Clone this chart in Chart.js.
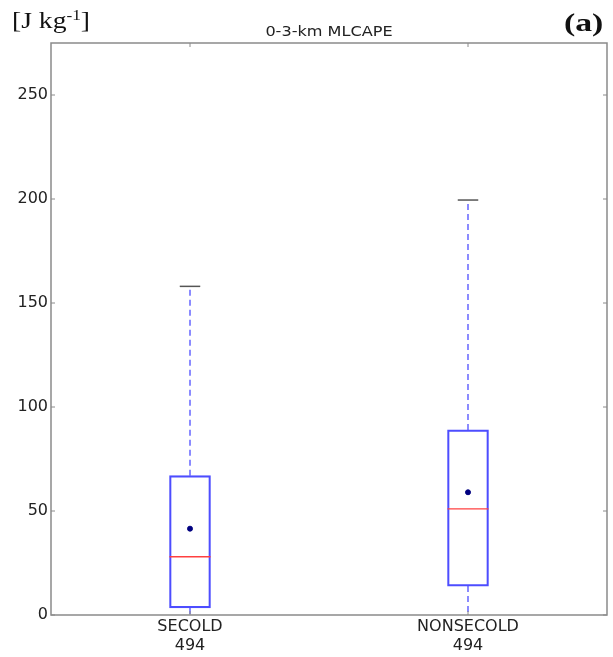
<!DOCTYPE html>
<html>
<head>
<meta charset="utf-8">
<script src="https://cdn.jsdelivr.net/npm/chart.js@4"></script>
<style>
  body { margin: 0; background: #fff; }
  #wrap { position: relative; width: 613px; height: 657px; }
  #unit { position: absolute; left: 12px; top: 7px; font: 24px "Liberation Serif", serif; color: #111;
          transform: scaleX(1.15); transform-origin: left top; white-space: nowrap; }
  #unit sup { font-size: 15px; vertical-align: 8px; }
  #panel { position: absolute; right: 10px; top: 8px; font: bold 26px "Liberation Serif", serif; color: #111;
           transform: scaleX(1.3); transform-origin: right top; }
  #title { position: absolute; left: 329px; top: 23px; font: 14px "DejaVu Sans", sans-serif; color: #222;
           transform: translateX(-50%) scaleX(1.15); white-space: nowrap; }
</style>
</head>
<body>
<div id="wrap">
  <canvas id="boxChart" width="613" height="657"></canvas>
  <div id="unit">[J kg<sup>-1</sup>]</div>
  <div id="title">0-3-km MLCAPE</div>
  <div id="panel">(a)</div>
</div>
<script>
'use strict';

// Data
const categories = ['SECOLD', 'NONSECOLD'];
const sampleCounts = [494, 494];
const whiskerLow = [0, 0];
const quartile1 = [3.4, 13.9];
const medians = [28, 51];
const means = [41.5, 59];
const quartile3 = [67, 89];
const whiskerHigh = [158, 199.5];
const yTicks = [0, 50, 100, 150, 200, 250];
const yMax = 275;

const axisGray = '#8a8a8a';
const boxBlue = '#4d4dff';

// whiskers, caps and median lines
const boxExtras = {
  id: 'boxExtras',
  afterDatasetsDraw(chart) {
    const ctx = chart.ctx;
    const x = chart.scales.x;
    const y = chart.scales.y;
    const bars = chart.getDatasetMeta(0).data;
    ctx.save();
    for (let i = 0; i < categories.length; i++) {
      const cx = x.getPixelForValue(i);
      const half = bars[i].width / 2;
      // dashed whiskers
      ctx.strokeStyle = boxBlue;
      ctx.lineWidth = 1.3;
      ctx.setLineDash([6, 4]);
      ctx.beginPath();
      ctx.moveTo(cx, y.getPixelForValue(quartile3[i]));
      ctx.lineTo(cx, y.getPixelForValue(whiskerHigh[i]));
      ctx.moveTo(cx, y.getPixelForValue(quartile1[i]));
      ctx.lineTo(cx, y.getPixelForValue(whiskerLow[i]));
      ctx.stroke();
      ctx.setLineDash([]);
      // caps
      ctx.strokeStyle = '#555';
      ctx.lineWidth = 1.5;
      ctx.beginPath();
      ctx.moveTo(cx - half / 2, y.getPixelForValue(whiskerHigh[i]));
      ctx.lineTo(cx + half / 2, y.getPixelForValue(whiskerHigh[i]));
      ctx.stroke();
      // median
      ctx.strokeStyle = '#ff4040';
      ctx.lineWidth = 1.3;
      ctx.beginPath();
      ctx.moveTo(cx - half, y.getPixelForValue(medians[i]));
      ctx.lineTo(cx + half, y.getPixelForValue(medians[i]));
      ctx.stroke();
    }
    ctx.restore();
  },
  afterDraw(chart) {
    const ctx = chart.ctx;
    const a = chart.chartArea;
    const x = chart.scales.x;
    const y = chart.scales.y;
    ctx.save();
    ctx.strokeStyle = axisGray;
    ctx.lineWidth = 1.5;
    ctx.strokeRect(a.left, a.top, a.right - a.left, a.bottom - a.top);
    // inward tick marks like matplotlib
    ctx.lineWidth = 1;
    ctx.beginPath();
    for (const v of yTicks) {
      const py = y.getPixelForValue(v);
      ctx.moveTo(a.left, py); ctx.lineTo(a.left + 4, py);
      ctx.moveTo(a.right, py); ctx.lineTo(a.right - 4, py);
    }
    for (let i = 0; i < categories.length; i++) {
      const px = x.getPixelForValue(i);
      ctx.moveTo(px, a.top); ctx.lineTo(px, a.top + 4);
      ctx.moveTo(px, a.bottom); ctx.lineTo(px, a.bottom - 4);
    }
    ctx.stroke();
    ctx.restore();
  }
};

const labels = categories.map((c, i) => [c, String(sampleCounts[i])]);

const chart = new Chart(document.getElementById('boxChart'), {
  type: 'bar',
  data: {
    labels: labels,
    datasets: [{
      label: 'box',
      data: categories.map((c, i) => [quartile1[i], quartile3[i]]),
      backgroundColor: 'rgba(0,0,0,0)',
      borderColor: boxBlue,
      borderWidth: 1.5,
      borderSkipped: false,
      barThickness: 41
    }, {
      type: 'line',
      label: 'mean',
      data: means,
      showLine: false,
      pointRadius: 2.5,
      pointBackgroundColor: '#000080',
      pointBorderColor: '#000080'
    }]
  },
  options: {
    responsive: false,
    animation: false,
    layout: { padding: { left: 0, right: 6, top: 43, bottom: 0 } },
    plugins: {
      legend: { display: false },
      tooltip: { enabled: false },
      title: { display: false }
    },
    scales: {
      x: {
        grid: { display: false, drawTicks: false },
        border: { display: false },
        ticks: {
          color: '#222',
          font: { family: 'DejaVu Sans', size: 16, lineHeight: 1.15 },
          padding: 3,
          maxRotation: 0
        },
        afterFit(scale) { scale.height = 42; }
      },
      y: {
        min: 0,
        max: yMax,
        grid: { display: false, drawTicks: false },
        border: { display: false },
        afterBuildTicks(scale) { scale.ticks = yTicks.map(v => ({ value: v })); },
        ticks: {
          color: '#222',
          font: { family: 'DejaVu Sans', size: 16 },
          padding: 3
        },
        afterFit(scale) { scale.width = 51; }
      }
    }
  },
  plugins: [boxExtras]
});
</script>
</body>
</html>
